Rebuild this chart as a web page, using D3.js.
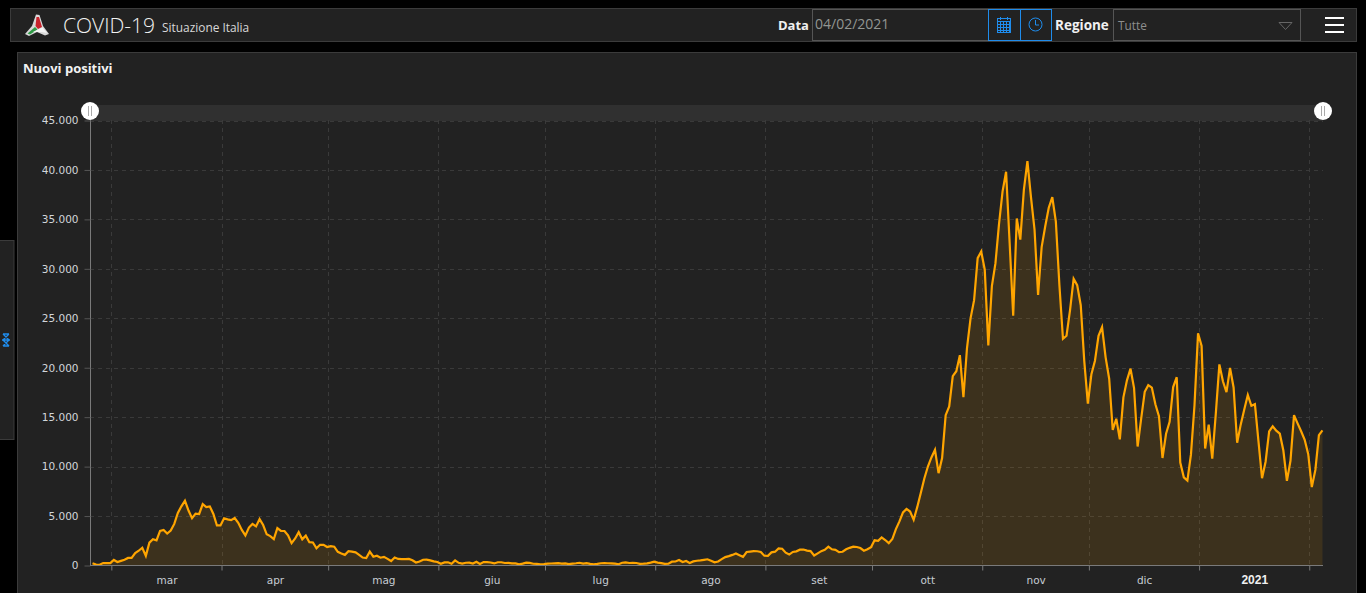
<!DOCTYPE html>
<html><head><meta charset="utf-8"><title>COVID-19 Situazione Italia</title>
<script src="https://cdnjs.cloudflare.com/ajax/libs/d3/7.8.5/d3.min.js"></script>
<style>html,body{margin:0;padding:0;background:#000;overflow:hidden}svg{display:block}
.ui{font-family:"Open Sans",sans-serif}.ax{font-family:"DejaVu Sans",sans-serif}</style></head><body>
<svg id="c" width="1366" height="593"></svg>
<script>
const feb20=[221,93,78,250,238,240];
const mar20=[561,347,466,587,769,778,1247,1492,1797,977,2313,2651,2547,3497,3590,3233,3526,4207,5322,5986,6557,5560,4789,5249,5210,6203,5909,5974,5217,4050,4053];
const apr20=[4782,4668,4585,4805,4316,3599,3039,3836,4204,3951,4694,4092,3153,2972,2667,3786,3493,3491,3047,2256,2729,3370,2646,3021,2357,2324,1739,2091,2086,1872];
const mag20=[1965,1900,1389,1221,1075,1444,1401,1327,1083,802,744,1402,888,992,789,875,675,451,813,665,642,652,669,531,300,397,584,593,516,416,355];
const giu20=[178,318,321,177,518,270,197,280,283,202,379,163,346,338,301,210,328,331,251,262,224,218,122,190,296,259,175,174,126,142];
const lug20=[187,201,223,235,192,208,138,193,229,276,188,234,169,114,162,230,233,230,218,190,129,282,306,252,275,255,170,181,212,289,379];
const ago20=[295,239,159,190,384,402,552,347,463,259,412,481,523,574,629,479,320,403,642,845,947,1071,1210,1045,878,1367,1411,1462,1444,1365,996];
const set20=[978,1326,1397,1733,1695,1297,1108,1370,1434,1597,1616,1501,1458,1008,1229,1452,1585,1907,1638,1587,1350,1392,1640,1786,1912,1869,1766,1494,1648,1851];
const ott20=[2548,2499,2844,2578,2257,2677,3678,4458,5372,5724,5456,4619,5901,7332,8804,10010,10925,11705,9338,10874,15199,16079,19143,19644,21273,17012,21994,24991,26831,31084,31758];
const nov20=[29907,22253,28244,30550,34505,37809,39811,32616,25271,35098,32961,37978,40902,37255,33979,27354,32191,34283,36176,37242,34767,28337,22930,23232,25853,29003,28352,26323,20648,16377];
const dic20=[19350,20709,23225,24099,21052,18887,13720,14842,12756,16999,18727,19903,17938,12030,14844,17572,18236,17992,16308,15104,10872,13318,14522,18040,19037,10407,8913,8585,11212,16202,23477];
const gen21=[22211,11831,14245,10800,15378,20331,18627,17533,19978,18000,12415,14242,15774,17246,16146,16310,12545,8824,10497,13571,14078,13633,13331,11629,8561,10593,15204,14372,13574,12715,11252];
const feb21=[7925,9660,13189,13659];
const values=[].concat(feb20,mar20,apr20,mag20,giu20,lug20,ago20,set20,ott20,nov20,dic20,gen21,feb21);
const yTicks=[0,5000,10000,15000,20000,25000,30000,35000,40000,45000];
const monthNames=["mar","apr","mag","giu","lug","ago","set","ott","nov","dic","2021"];
const title="Nuovi positivi", appTitle="COVID-19", subTitle="Situazione Italia";

const start=Date.UTC(2020,1,24,17);
const dates=values.map((v,i)=>new Date(start+i*864e5));
const svg=d3.select("#c");
const panel="#222222", border="#3b3b3b", blue="#1f8cec";
function box(x,y,w,h,f,s){return svg.append("rect").attr("x",x+.5).attr("y",y+.5).attr("width",w).attr("height",h).attr("fill",f).attr("stroke",s)}
function txt(x,y,t,size,fill,weight,anchor,cls){return svg.append("text").attr("class",cls||"ui").attr("x",x).attr("y",y).attr("font-size",size).attr("fill",fill).attr("font-weight",weight||400).attr("text-anchor",anchor||"start").text(t)}

// chrome
box(10,8,1346,33,panel,border);
box(17,52,1339,545,panel,border);
box(-2,240,15.5,199,panel,border);
// side glyph
const side=svg.append("g").attr("fill","none").attr("stroke",blue).attr("stroke-width",1.4);
side.append("path").attr("d","M3 334h6M3 346h6M3 334l6 6-6 6M9 334l-6 6 6 6M2 340h8");
// logo
const logo=svg.append("g");
logo.append("path").attr("d","M36 14.5 L39.5 15 L43 26 L49 34 L45 35.5 L37 32 L29 36 L25 34 L32 26 Z").attr("fill","#d9d9d9");
logo.append("path").attr("d","M36.5 17 L39 17 L42 27 L38 29 L35.5 26 Z").attr("fill","#c8232c");
logo.append("path").attr("d","M27.5 33.5 L35 27 L37.5 29.5 L30 34.5 Z").attr("fill","#2f9a46");
logo.append("path").attr("d","M33 32 L38 29.5 L42.5 27.5 L47 33 L42 32 Z").attr("fill","#f4f4f4");
txt(63,33,appTitle,21,"#f2f2f2",300);
txt(162,32,subTitle,11.9,"#d8d8d8",400);
txt(778,30,"Data",13,"#f0f0f0",700);
box(812,9,176,31,panel,"#555");
txt(815,29,"04/02/2021",14,"#929692",400);
box(988,9,32,31,panel,blue);
box(1020,9,31,31,panel,blue);
// calendar icon
const cal=svg.append("g").attr("fill","none").attr("stroke",blue).attr("stroke-width",1);
cal.append("rect").attr("x",997.5).attr("y",18.5).attr("width",13).attr("height",14);
[21,24,27,30].forEach(y=>cal.append("path").attr("d",`M997.5 ${y+.5}h13`));
[1000,1003,1006,1009].forEach(x=>cal.append("path").attr("d",`M${x+.5} 21v11`));
cal.append("path").attr("d","M1000.5 17v3M1007.5 17v3");
const clk=svg.append("g").attr("fill","none").attr("stroke",blue).attr("stroke-width",1);
clk.append("circle").attr("cx",1035.5).attr("cy",24.5).attr("r",6.5);
clk.append("path").attr("d","M1035.5 20v5h3.5");
txt(1055,30,"Regione",13.5,"#f0f0f0",700);
box(1113,9,187,31,panel,"#555");
txt(1118,30,"Tutte",11.8,"#8e8e8e",400);
svg.append("path").attr("d","M1279 22.5h13l-6.5 7z").attr("fill","none").attr("stroke","#666");
[18,25,32].forEach(y=>svg.append("rect").attr("x",1325).attr("y",y-1).attr("width",19).attr("height",2).attr("fill","#fff"));
txt(23,73,title,13,"#f2f2f2",700);

// chart
const x=d3.scaleUtc().domain([new Date(Date.UTC(2020,1,24)),new Date(Date.UTC(2021,1,5))]).range([90,1323.5]);
const y=d3.scaleLinear().domain([0,45000]).range([565.5,120.5]);
const monthTicks=d3.utcMonths(new Date(Date.UTC(2020,2,1)),new Date(Date.UTC(2021,1,2)));

svg.append("rect").attr("x",90).attr("y",105).attr("width",1233).attr("height",16).attr("fill","#303030");

const grid=svg.append("g").attr("stroke","#3a3a3a").attr("stroke-dasharray","4 4").attr("stroke-width",1);
grid.selectAll("line.h").data(yTicks.slice(1)).join("line").attr("class","h")
  .attr("x1",90).attr("x2",1323).attr("y1",d=>Math.round(y(d))+.5).attr("y2",d=>Math.round(y(d))+.5);
grid.selectAll("line.v").data(monthTicks).join("line").attr("class","v")
  .attr("x1",d=>Math.round(x(d))+.5).attr("x2",d=>Math.round(x(d))+.5).attr("y1",120).attr("y2",565);

svg.append("path").datum(values)
  .attr("d",d3.area().x((d,i)=>x(dates[i])).y0(y(0)).y1(d=>y(d)))
  .attr("fill","#ffa500").attr("fill-opacity",.12);
svg.append("path").datum(values)
  .attr("d",d3.line().x((d,i)=>x(dates[i])).y(d=>y(d)))
  .attr("fill","none").attr("stroke","#ffa500").attr("stroke-width",2.2);

// axes
const yAxis=d3.axisLeft(y).tickValues(yTicks).tickSize(6).tickPadding(6)
  .tickFormat(d=>d===0?"0":d3.format(",")(d).replace(/,/g,"."));
const gy=svg.append("g").attr("class","ax").attr("transform","translate(90.5,0)").call(yAxis);
gy.selectAll("text").attr("font-size",10.5).attr("fill","#d2d6da").attr("font-family","DejaVu Sans");
gy.selectAll("line").attr("stroke","#555");
gy.select(".domain").attr("stroke","#7a7a7a").attr("d","M0 120V566");

const xAxis=d3.axisBottom(x).tickValues(monthTicks).tickSize(5).tickFormat("");
const gx=svg.append("g").attr("class","ax").attr("transform","translate(0,565.5)").call(xAxis);
gx.selectAll("line").attr("stroke","#7a7a7a");
gx.select(".domain").attr("stroke","#7a7a7a").attr("d","M90 0H1323");
svg.append("g").selectAll("text").data(monthTicks.slice(0,-1)).join("text")
  .attr("class","ax").attr("text-anchor","middle").attr("y",584)
  .attr("x",(d,i)=>(x(d)+x(monthTicks[i+1]))/2+.6)
  .attr("font-size",10.5)
  .attr("font-family",(d,i)=>i===10?"Liberation Sans":"DejaVu Sans")
  .style("font-family",(d,i)=>i===10?"Liberation Sans":"DejaVu Sans")
  .style("font-size",(d,i)=>i===10?"12px":"10.5px").attr("font-weight",(d,i)=>i===10?700:400)
  .attr("fill",(d,i)=>i===10?"#f0f0f0":"#c6ccd2").text((d,i)=>monthNames[i]);

// scrollbar grips
[90,1323].forEach(cx=>{
  const g=svg.append("g").attr("transform",`translate(${cx},111)`);
  g.append("circle").attr("r",9).attr("fill","#fff");
  g.append("path").attr("d","M-1.5 -5V5M1.5 -5V5").attr("stroke","#aaa").attr("fill","none");
});
</script></body></html>
